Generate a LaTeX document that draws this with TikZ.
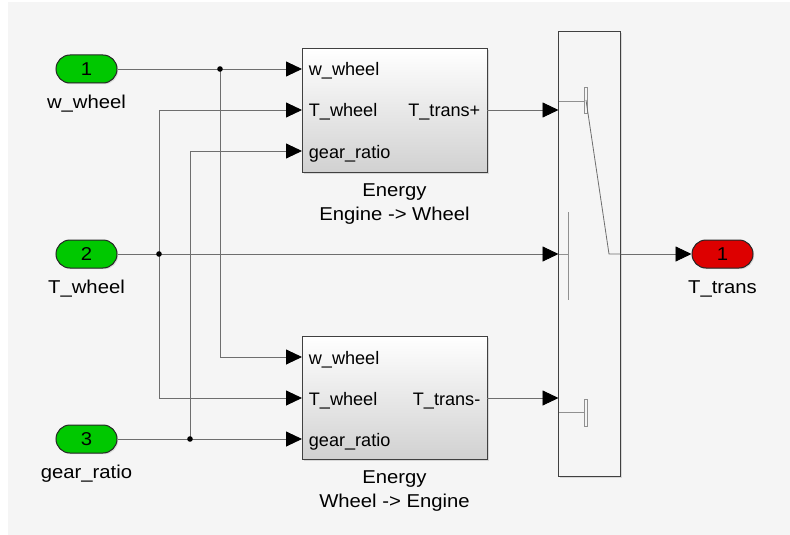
\documentclass[tikz,border=0pt]{standalone}
\usepackage{fontspec}
\setmainfont{Liberation Sans}[FakeStretch=1.09]
\newfontfamily\portfont{Liberation Sans}
\usetikzlibrary{arrows.meta,shadows}
\definecolor{bggray}{HTML}{F5F5F5}
\definecolor{linegray}{HTML}{6E6E6E}
\definecolor{swgray}{HTML}{909090}
\definecolor{ingreen}{HTML}{00C800}
\definecolor{outred}{HTML}{DD0000}
\begin{document}
\begin{tikzpicture}[x=1pt,y=-1pt,
  every node/.style={font=\fontsize{18.6}{24}\selectfont},
  wire/.style={draw=linegray, line width=0.9pt},
  sig/.style={wire, -{Triangle[length=16pt,width=15pt,color=black]}},
  pill/.style={draw=black!85, line width=1pt, rounded corners=14pt, minimum width=61pt, minimum height=28pt, inner sep=0pt,
     drop shadow={shadow xshift=1.2pt, shadow yshift=-1.2pt, opacity=0.25}},
  blk/.style={draw=black!75, line width=1pt, top color=white, bottom color=black!18, minimum width=185pt, minimum height=123pt, inner sep=0pt,
     drop shadow={shadow xshift=1.5pt, shadow yshift=-1.5pt, opacity=0.25}},
  swblk/.style={draw=black!75, line width=1pt, fill=bggray, minimum width=62pt, minimum height=444pt, inner sep=0pt,
     drop shadow={shadow xshift=1.5pt, shadow yshift=-1.5pt, opacity=0.25}},
  portlbl/.style={inner sep=0pt, font=\portfont\fontsize{18.1}{22}\selectfont},
  lbl/.style={inner sep=0pt, anchor=base},
  blbl/.style={inner sep=0pt, align=center, anchor=base},
  dot/.style={fill=black}
]
\useasboundingbox (0,0) rectangle (790,535);
\fill[white] (0,0) rectangle (790,535);
\fill[bggray] (8,2) rectangle (790,535);

% inports / outport
\node[pill, fill=ingreen] (in1) at (86.5,69) {1};
\node[pill, fill=ingreen] (in2) at (86.5,254) {2};
\node[pill, fill=ingreen] (in3) at (86.5,439) {3};
\node[pill, fill=outred] (out1) at (722.5,254) {1};
\node[lbl] (in1l) at (86.5,108) {w\_wheel};
\node[lbl] (in2l) at (86.5,293) {T\_wheel};
\node[lbl] (in3l) at (86.5,478) {gear\_ratio};
\node[lbl] (out1l) at (722.5,293) {T\_trans};

% subsystem blocks
\node[blk] (b1) at (394.5,110.5) {};
\node[blk] (b2) at (394.5,397.5) {};
\node[blbl] (b1l) at (394.5,220.7) {Energy\\Engine -> Wheel};
\node[blbl] (b2l) at (394.5,507.7) {Energy\\Wheel -> Engine};

\node[portlbl, anchor=base west] (b1pw) at (308.7,76) {w\_wheel};
\node[portlbl, anchor=base west] (b1pt) at (308.7,117) {T\_wheel};
\node[portlbl, anchor=base west] (b1pg) at (308.7,158) {gear\_ratio};
\node[portlbl, anchor=base east] (b1po) at (480.5,117) {T\_trans+};
\node[portlbl, anchor=base west] (b2pw) at (308.7,364) {w\_wheel};
\node[portlbl, anchor=base west] (b2pt) at (308.7,405) {T\_wheel};
\node[portlbl, anchor=base west] (b2pg) at (308.7,446) {gear\_ratio};
\node[portlbl, anchor=base east] (b2po) at (480.5,405) {T\_trans-};

% switch block
\node[swblk] (sw) at (589.5,254) {};

% port coordinates
\coordinate (b1w) at (302,69);
\coordinate (b1t) at (302,110);
\coordinate (b1g) at (302,151);
\coordinate (b1o) at (487,110);
\coordinate (b2w) at (302,357);
\coordinate (b2t) at (302,398);
\coordinate (b2g) at (302,439);
\coordinate (b2o) at (487,398);
\coordinate (sw1) at (558.5,110);
\coordinate (sw2) at (558.5,254);
\coordinate (sw3) at (558.5,398);
\coordinate (swo) at (620.5,254);

% junctions
\coordinate (j1) at (220,69);
\coordinate (j2) at (159,254);
\coordinate (j3) at (190,439);

% wires
\draw[wire] (in1.east) -- (j1);
\draw[sig] (j1) -- (b1w);
\draw[sig] (j1) |- (b2w);
\draw[wire] (in2.east) -- (j2);
\draw[sig] (j2) -- (sw2);
\draw[sig] (j2) |- (b1t);
\draw[sig] (j2) |- (b2t);
\draw[wire] (in3.east) -- (j3);
\draw[sig] (j3) -- (b2g);
\draw[sig] (j3) |- (b1g);
\draw[sig] (b1o) -- (sw1);
\draw[sig] (b2o) -- (sw3);
\draw[sig] (swo) -- (out1.west);

\fill[dot] (j1) circle (2.8);
\fill[dot] (j2) circle (2.8);
\fill[dot] (j3) circle (2.8);

% switch internals
\draw[swgray, line width=0.8pt] (559,101) -- (584.5,101);
\draw[swgray, line width=0.7pt] (584.5,87) rectangle (587,113);
\draw[swgray, line width=0.8pt] (559,412) -- (584.5,412);
\draw[swgray, line width=0.7pt] (584.5,399) rectangle (587,426);
\draw[swgray, line width=0.8pt] (559,254) -- (568,254);
\draw[swgray, line width=0.8pt] (568,212) -- (568,300);
\draw[linegray, line width=0.8pt] (586,100) -- (609,254) -- (swo);
\end{tikzpicture}
\end{document}
